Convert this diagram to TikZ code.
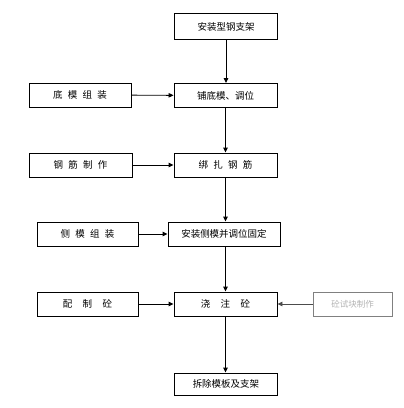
\documentclass[tikz,border=0pt]{standalone}
\usepackage{fontspec}
\setmainfont{Noto Sans CJK SC}
\usetikzlibrary{arrows.meta}
\newcommand{\gap}{\hspace{0.55em}}
\begin{document}
\begin{tikzpicture}[
        x=1pt, y=-1pt,
        every node/.style={draw, rectangle, line width=0.9pt, minimum height=24pt, inner sep=0pt, text centered, font=\fontsize{9.5}{11}\selectfont},
        wide/.style={minimum width=103pt},
        faint/.style={draw=gray, text=gray!60},
        arr/.style={draw, -{Triangle[length=5pt, width=4.5pt]}, line width=0.9pt},
    ]
    \useasboundingbox (0,0) rectangle (404,408);
    % main column
    \node[wide, minimum height=26pt](azzj) at (226,26.5){安装型钢支架};
    \node[wide](pdm) at (225.5,95.5){铺底模、调位};
    \node[wide](bzgj) at (225.5,165){绑\gap 扎\gap 钢\gap 筋};
    \node[minimum width=112pt](azcm) at (224,234){安装侧模并调位固定};
    \node[wide](jzt) at (225.5,304){浇\gap\gap 注\gap\gap 砼};
    \node[wide, minimum height=22pt](ccmb) at (226,384){拆除模板及支架};
    % side boxes
    \node[minimum width=102pt](dmzz) at (80,95){底\gap 模\gap 组\gap 装};
    \node[minimum width=103pt](gjzz) at (80.5,165){钢\gap 筋\gap 制\gap 作};
    \node[minimum width=101pt](cmzz) at (87.5,234){侧\gap 模\gap 组\gap 装};
    \node[minimum width=101pt](pzt) at (87.5,304){配\gap\gap 制\gap\gap 砼};
    \node[faint, minimum width=79pt, font=\fontsize{8.5}{10}\selectfont](sk) at (352.5,304){砼试块制作};

    \draw[arr] (azzj.south) -- (azzj.south |- pdm.north);
    \draw[arr] (pdm.south) -- (pdm.south |- bzgj.north);
    \draw[arr] (bzgj.south) -- (bzgj.south |- azcm.north);
    \draw[arr] (bzgj.south |- azcm.south) -- (bzgj.south |- jzt.north);
    \draw[arr] (jzt.south) -- (jzt.south |- ccmb.north);
    \draw[arr] (dmzz) -- (pdm);
    \draw[arr] (gjzz) -- (bzgj);
    \draw[arr] (cmzz) -- (azcm);
    \draw[arr] (pzt) -- (jzt);
    \draw[arr, draw=black!70] (sk) -- (jzt);
\end{tikzpicture}
\end{document}
